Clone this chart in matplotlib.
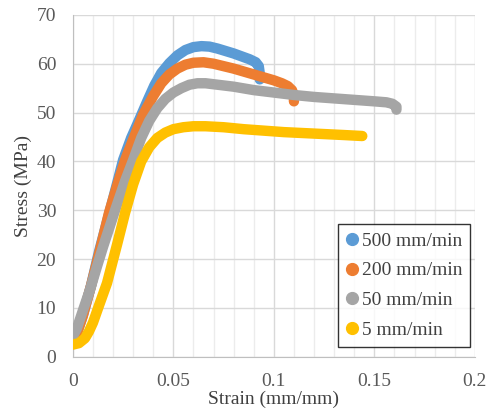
import matplotlib.pyplot as plt
from matplotlib.ticker import MultipleLocator
from matplotlib.lines import Line2D

plt.rcParams['font.family'] = ['Liberation Serif', 'DejaVu Serif']

# strain (mm/mm), stress (MPa)
strain_500 = [0, 0.002, 0.005, 0.009, 0.013, 0.0185, 0.022, 0.025, 0.029, 0.033,
              0.037, 0.0405, 0.044, 0.048, 0.052, 0.056, 0.060, 0.064, 0.068, 0.072,
              0.076, 0.080, 0.084, 0.088, 0.091, 0.0925, 0.093, 0.093]
stress_500 = [3.8, 4.8, 8.5, 14.5, 21.5, 30, 35.5, 40.3, 44.8, 48.5,
              52.3, 55.5, 58.1, 60.1, 61.7, 62.8, 63.4, 63.6, 63.5, 63.1,
              62.6, 62.1, 61.5, 60.9, 60.3, 59.5, 58.0, 56.8]

strain_200 = [0, 0.002, 0.005, 0.009, 0.013, 0.018, 0.022, 0.026, 0.030, 0.035,
              0.040, 0.044, 0.048, 0.052, 0.056, 0.060, 0.065, 0.070, 0.075, 0.080,
              0.085, 0.090, 0.095, 0.100, 0.104, 0.107, 0.109, 0.110, 0.110]
stress_200 = [3.8, 4.8, 8.5, 14.5, 21, 29.5, 35, 40.3, 44.5, 49.6,
              53.4, 56.0, 57.8, 59.0, 59.8, 60.2, 60.3, 60.0, 59.5, 59.0,
              58.4, 57.8, 57.2, 56.6, 56.0, 55.4, 54.6, 53.5, 52.3]

strain_50 = [0, 0.002, 0.005, 0.0085, 0.012, 0.015, 0.021, 0.026, 0.030, 0.034,
             0.038, 0.042, 0.046, 0.050, 0.054, 0.058, 0.062, 0.066, 0.070, 0.080,
             0.090, 0.100, 0.110, 0.120, 0.130, 0.140, 0.150, 0.156, 0.159, 0.161,
             0.161]
stress_50 = [4.2, 5.8, 9.5, 13.7, 18.5, 22.5, 30, 36, 40.3, 44.8,
             48.3, 50.9, 52.8, 54.1, 55.0, 55.7, 56.0, 56.0, 55.8, 55.3,
             54.6, 54.1, 53.6, 53.2, 52.9, 52.6, 52.3, 52.1, 51.8, 51.2,
             50.6]

strain_5 = [0, 0.003, 0.006, 0.008, 0.010, 0.013, 0.017, 0.022, 0.026, 0.030,
            0.034, 0.038, 0.042, 0.046, 0.050, 0.055, 0.060, 0.066, 0.075, 0.085,
            0.095, 0.105, 0.115, 0.125, 0.135, 0.144]
stress_5 = [2.5, 2.8, 3.8, 5.2, 7, 10.5, 15.1, 23.0, 29.5, 35.3,
            40.0, 42.9, 44.8, 45.9, 46.6, 47.0, 47.2, 47.2, 47.0, 46.6,
            46.3, 46.0, 45.8, 45.6, 45.4, 45.2]

labels = ['500 mm/min', '200 mm/min', '50 mm/min', '5 mm/min']
colors = ['#5b9bd5', '#ed7d31', '#a5a5a5', '#ffc000']

fig = plt.figure(figsize=(4.89, 4.13), dpi=100)
ax = fig.add_axes([0.149, 0.136, 0.822, 0.828])

series = [(strain_500, stress_500), (strain_200, stress_200),
          (strain_50, stress_50), (strain_5, stress_5)]
for (x, y), c in zip(series, colors):
    ax.plot(x, y, color=c, lw=7.5, solid_capstyle='round',
            solid_joinstyle='round', zorder=3)

ax.set_xlim(0, 0.2)
ax.set_ylim(0, 70)
ax.xaxis.set_minor_locator(MultipleLocator(0.01))
ax.yaxis.set_major_locator(MultipleLocator(10))
ax.set_xticks([0, 0.05, 0.1, 0.15, 0.2])
ax.set_xticklabels(['0', '0.05', '0.1', '0.15', '0.2'])
ax.grid(which='major', color='#d9d9d9', lw=1)
ax.grid(which='minor', axis='x', color='#ececec', lw=1)
ax.set_axisbelow(True)
for s in ['top', 'right']:
    ax.spines[s].set_visible(False)
for s in ['left', 'bottom']:
    ax.spines[s].set_color('#bfbfbf')
ax.tick_params(which='both', length=0, labelsize=14, colors='#595959', pad=12)

ax.set_xlabel('Strain (mm/mm)', fontsize=14, color='#404040', labelpad=0)
ax.set_ylabel('Stress (MPa)', fontsize=14, color='#404040', labelpad=3)

handles = [Line2D([0], [0], ls='none', marker='o', ms=8.5, color=c) for c in colors]
leg = ax.legend(handles, labels, loc='lower right', bbox_to_anchor=(0.9876, 0.029),
                fontsize=14, frameon=True, fancybox=False, handlelength=0.6,
                handletextpad=0.2, labelspacing=0.63, borderpad=0.4,
                borderaxespad=0, labelcolor='#404040')
leg.get_frame().set_edgecolor('black')
leg.get_frame().set_linewidth(1)
leg.set_zorder(5)

fig.savefig('out.png', dpi=100)
